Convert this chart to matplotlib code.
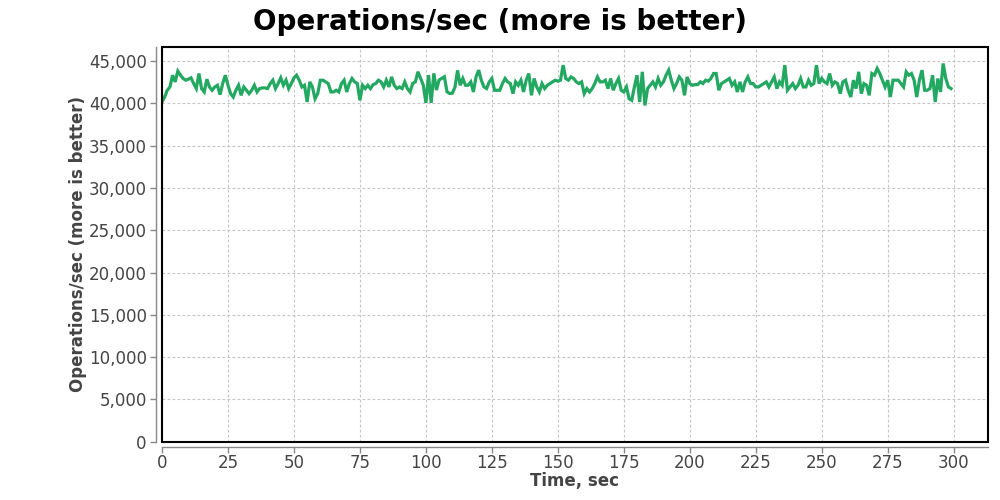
import matplotlib
matplotlib.use("Agg")
import matplotlib.pyplot as plt
from matplotlib.ticker import FuncFormatter, MultipleLocator
from matplotlib.patches import Rectangle

title = "Operations/sec (more is better)"
x_label = "Time, sec"
y_label = "Operations/sec (more is better)"

ops_0_49 = [40160, 40750, 41550, 41940, 43330, 42540, 43810, 43330, 42940, 42740,
            42860, 43020, 42340, 41750, 43530, 41750, 41350, 42860, 41940, 41550,
            41940, 42140, 41030, 42340, 43330, 42140, 41150, 40750, 41550, 42140,
            40950, 41940, 41550, 41150, 41550, 42140, 41350, 41750, 41830, 41830,
            41750, 42340, 42740, 41750, 42340, 43020, 42140, 42740, 41750, 42340]
ops_50_99 = [43020, 43330, 42740, 41940, 42140, 40160, 42540, 41940, 40550, 41150,
             42740, 42740, 42540, 42340, 41350, 41350, 41550, 41350, 42340, 42740,
             41350, 42340, 42940, 42540, 42340, 40360, 42140, 41750, 42140, 41750,
             42220, 42340, 42740, 42540, 41940, 42740, 41940, 43130, 42140, 41750,
             41940, 41750, 42540, 41750, 41350, 42360, 42550, 43740, 42950, 42160]
ops_100_149 = [40060, 43350, 40060, 43550, 41570, 42760, 42950, 43150, 41370, 41170,
               41200, 41900, 43900, 42140, 42940, 42140, 42140, 42540, 41350, 43130,
               43930, 42740, 41940, 41750, 42540, 42940, 41550, 41550, 41550, 42340,
               42940, 42540, 42340, 41150, 42540, 42140, 42740, 41350, 42740, 43530,
               40950, 42940, 41940, 41350, 42340, 41750, 42140, 42340, 42540, 42740]
ops_150_199 = [42620, 42740, 44520, 42940, 42740, 43130, 42940, 42540, 42340, 42540,
               41150, 41750, 41350, 41750, 42340, 43130, 42540, 42540, 42740, 41750,
               42940, 41550, 42340, 42940, 41550, 41350, 41940, 40550, 40360, 41940,
               43330, 40160, 43730, 39760, 41750, 42140, 42540, 41940, 42940, 42140,
               42540, 43330, 43930, 42740, 41750, 42340, 43130, 42740, 40950, 43130]
ops_200_249 = [42340, 42140, 42220, 42220, 42540, 42340, 42740, 42620, 42940, 43530,
               43530, 41550, 42340, 42540, 42740, 42940, 42140, 42540, 41350, 42540,
               41350, 42540, 43130, 42340, 42340, 41940, 41940, 42140, 42340, 42540,
               41940, 42540, 43130, 41750, 42540, 42140, 44520, 41550, 41940, 42340,
               41750, 42140, 42940, 41940, 41940, 42740, 42140, 42340, 44520, 42340]
ops_250_299 = [42940, 42540, 42340, 43530, 42140, 42540, 42340, 41150, 42540, 42740,
               41550, 40750, 42740, 41750, 43730, 41150, 42340, 42140, 40950, 43530,
               43330, 44130, 43530, 42740, 41940, 42740, 40750, 42740, 42740, 42740,
               42340, 41940, 43730, 43330, 43530, 42740, 40750, 42740, 43930, 41550,
               41550, 41750, 43330, 40160, 42940, 41350, 44720, 42940, 41940, 41750]

ops = ops_0_49 + ops_50_99 + ops_100_149 + ops_150_199 + ops_200_249 + ops_250_299
seconds = list(range(len(ops)))

text_color = "#444444"
line_color = "#23a861"

fig = plt.figure(figsize=(10, 5), dpi=100)
ax = fig.add_axes([0.162, 0.1166, 0.826, 0.79])

ax.plot(seconds, ops, color=line_color, linewidth=2.3, solid_joinstyle="miter", zorder=3)

ax.set_xlim(0, 313)
ax.set_ylim(0, 46700)
ax.xaxis.set_major_locator(MultipleLocator(25))
ax.yaxis.set_major_locator(MultipleLocator(5000))
ax.yaxis.set_major_formatter(FuncFormatter(lambda v, p: f"{int(v):,}"))

ax.grid(True, color="#c4c4c4", linestyle=(0, (2.5, 2)), linewidth=0.8, zorder=0)
ax.set_axisbelow(True)

for s in ("top", "right"):
    ax.spines[s].set_color("black")
    ax.spines[s].set_linewidth(1.2)
for s in ("left", "bottom"):
    ax.spines[s].set_position(("outward", 4))
    ax.spines[s].set_color("#888888")
    ax.spines[s].set_linewidth(1.0)

border = Rectangle((0, 0), 1, 1, transform=ax.transAxes, fill=False,
                   edgecolor="black", linewidth=1.5, clip_on=False, zorder=4)
ax.add_patch(border)

ax.tick_params(axis="both", direction="out", length=4, width=1, color="#888888",
               labelcolor=text_color, labelsize=12)
ax.tick_params(axis="x", pad=1)
ax.tick_params(axis="y", pad=3)

ax.set_xlabel(x_label, fontsize=12, fontweight="bold", color=text_color, labelpad=0)
ax.set_ylabel(y_label, fontsize=12, fontweight="bold", color=text_color, labelpad=1)
fig.suptitle(title, fontsize=20, fontweight="bold", color="black", y=0.985, va="top")

fig.savefig("out.png", dpi=100)
